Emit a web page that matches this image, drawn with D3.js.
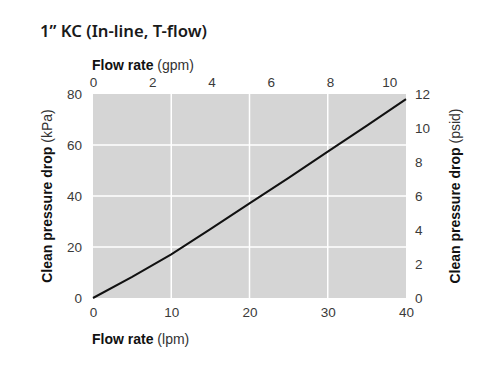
<!DOCTYPE html>
<html><head><meta charset="utf-8">
<script src="https://cdn.jsdelivr.net/npm/d3@7"></script>
<style>
body{margin:0;background:#fff;}
svg{display:block;}
</style></head>
<body>
<svg id="c" width="500" height="386"></svg>
<script>
const title = "1\u201D KC (In-line, T-flow)";
const flowLpm = [0, 5, 10, 15, 20, 25, 30, 35, 40];
const dropKPa = [0, 8.3, 17.1, 27, 37.1, 47.1, 57.4, 67.6, 78];
const lpmTicks = [0, 10, 20, 30, 40];
const gpmTicks = [0, 2, 4, 6, 8, 10];
const kpaTicks = [0, 20, 40, 60, 80];
const psidTicks = [0, 2, 4, 6, 8, 10, 12];
const LPM_PER_GPM = 3.785;

const svg = d3.select("#c");
const m = {l:93, r:406, t:94, b:298};
const x = d3.scaleLinear().domain([0,40]).range([m.l, m.r]);
const xg = d3.scaleLinear().domain([0,40/LPM_PER_GPM]).range([m.l, m.r]);
const y = d3.scaleLinear().domain([0,80]).range([m.b, m.t]);
const yp = d3.scaleLinear().domain([0,12]).range([m.b, m.t]);

const font = "'Liberation Sans', Arial, Helvetica, sans-serif";

svg.append("text").attr("x",40).attr("y",37)
  .attr("font-family","'Noto Sans', sans-serif").attr("font-weight",600)
  .attr("font-size",16.7).attr("fill","#1a1a1a").text(title);

svg.append("rect").attr("x",m.l).attr("y",m.t)
  .attr("width",m.r-m.l).attr("height",m.b-m.t).attr("fill","#d5d5d5");

const g = svg.append("g");
g.selectAll(".vg").data(lpmTicks.slice(1,-1)).join("line")
  .attr("x1",d=>x(d)).attr("x2",d=>x(d)).attr("y1",m.t).attr("y2",m.b)
  .attr("stroke","#fff").attr("stroke-width",1.5);
g.selectAll(".hg").data(kpaTicks.slice(1,-1)).join("line")
  .attr("y1",d=>y(d)).attr("y2",d=>y(d)).attr("x1",m.l).attr("x2",m.r)
  .attr("stroke","#fff").attr("stroke-width",1.5);

function styleAxis(sel){
  sel.select(".domain").remove();
  sel.selectAll(".tick line").remove();
  sel.selectAll(".tick text").attr("font-family",font).attr("font-size",13.5).attr("fill","#3a3a3a");
}
svg.append("g").attr("transform",`translate(0,${m.b})`)
  .call(d3.axisBottom(x).tickValues(lpmTicks).tickSize(0).tickPadding(9)).call(styleAxis);
svg.append("g").attr("transform",`translate(0,${m.t})`)
  .call(d3.axisTop(xg).tickValues(gpmTicks).tickSize(0).tickPadding(7)).call(styleAxis);
svg.append("g").attr("transform",`translate(${m.l},0)`)
  .call(d3.axisLeft(y).tickValues(kpaTicks).tickSize(0).tickPadding(11)).call(styleAxis);
svg.append("g").attr("transform",`translate(${m.r},0)`)
  .call(d3.axisRight(yp).tickValues(psidTicks).tickSize(0).tickPadding(9)).call(styleAxis);

const line = d3.line().x((d,i)=>x(flowLpm[i])).y(d=>y(d));
svg.append("path").datum(dropKPa).attr("d",line)
  .attr("fill","none").attr("stroke","#111").attr("stroke-width",2);

function label(xp, yp2, rot, bold, normal, anchor){
  const t = svg.append("text").attr("transform",`translate(${xp},${yp2}) rotate(${rot})`)
    .attr("font-family",font).attr("font-size",14).attr("fill","#111")
    .attr("text-anchor",anchor);
  t.append("tspan").attr("font-weight","bold").text(bold);
  t.append("tspan").attr("fill","#333").text(normal);
}
label(92, 70, 0, "Flow rate", " (gpm)", "start");
label(92, 344, 0, "Flow rate", " (lpm)", "start");
label(52, 196, -90, "Clean pressure drop", " (kPa)", "middle");
label(460, 196, -90, "Clean pressure drop", " (psid)", "middle");
</script>
</body></html>
